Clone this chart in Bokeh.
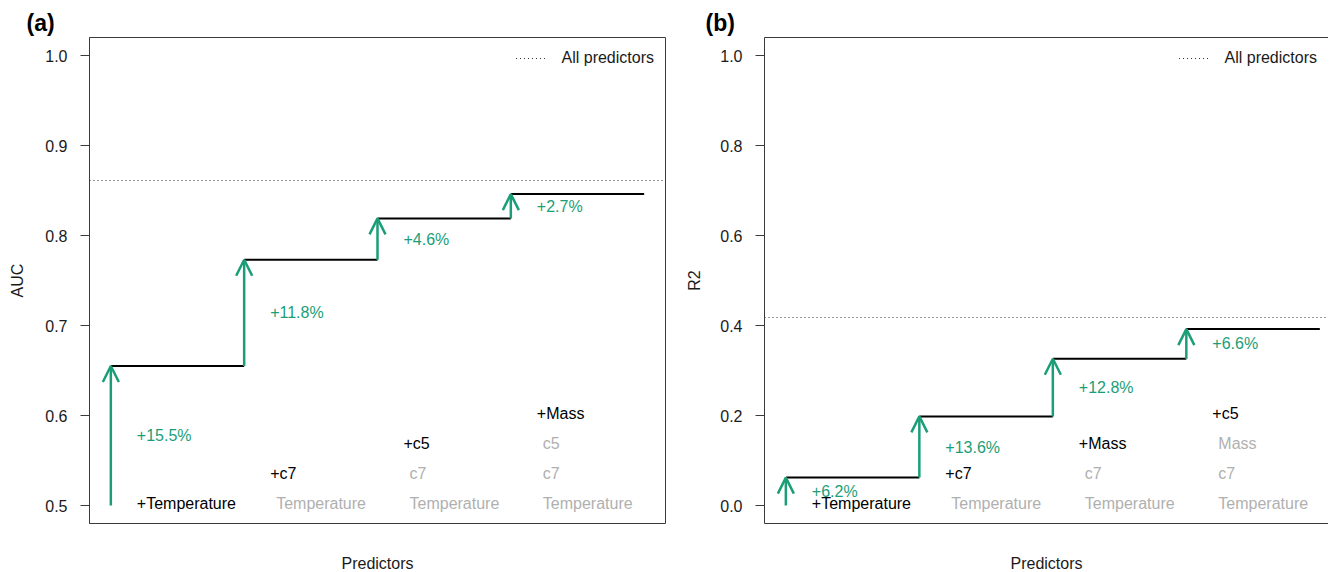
from bokeh.plotting import figure
from bokeh.models import (Range1d, FixedTicker, NumeralTickFormatter, Arrow, OpenHead,
                          ColumnDataSource, Title, LinearAxis)
from bokeh.layouts import row
from bokeh.embed import file_html
from bokeh.resources import INLINE
from bokeh.core.properties import value

# ---------------- data ----------------
steps = [1, 2, 3, 4]

auc_values = [0.655, 0.773, 0.819, 0.846]
auc_base = 0.5
auc_all = 0.861
auc_gain_labels = ["+15.5%", "+11.8%", "+4.6%", "+2.7%"]
auc_predictors = ["Temperature", "c7", "c5", "Mass"]
auc_ticks = [0.5, 0.6, 0.7, 0.8, 0.9, 1.0]

r2_values = [0.062, 0.198, 0.326, 0.392]
r2_base = 0.0
r2_all = 0.417
r2_gain_labels = ["+6.2%", "+13.6%", "+12.8%", "+6.6%"]
r2_predictors = ["Temperature", "c7", "Mass", "c5"]
r2_ticks = [0.0, 0.2, 0.4, 0.6, 0.8, 1.0]

GREEN = "#1B9E77"
GREY = "#B0B0B0"
FONT = "Liberation Sans"
FRAME = "#3a3a3a"


def panel(tag, ylabel, values, base, allv, gains, preds, ticks, yrange, xend,
          frame_width, border_left, border_right, full_outline, title_x, ylab_standoff):
    p = figure(output_backend="svg", toolbar_location=None,
               frame_width=frame_width, frame_height=486,
               min_border_left=border_left, min_border_right=border_right,
               min_border_top=37, min_border_bottom=49,
               x_range=Range1d(0.84, xend), y_range=Range1d(*yrange),
               x_axis_location=None, y_axis_location="left")
    p.xgrid.visible = False
    p.ygrid.visible = False
    p.background_fill_color = "white"
    p.border_fill_color = "white"
    if full_outline:
        p.outline_line_color = FRAME
        p.outline_line_width = 1
    else:
        p.outline_line_color = None

    # y axis
    ax = p.yaxis[0]
    ax.ticker = FixedTicker(ticks=ticks)
    ax.formatter = NumeralTickFormatter(format="0.0")
    ax.minor_tick_line_color = None
    ax.major_tick_in = 0
    ax.major_tick_out = 9
    ax.major_tick_line_color = FRAME
    ax.axis_line_color = FRAME
    ax.major_label_standoff = 13
    ax.major_label_text_font = FONT
    ax.major_label_text_font_size = "16px"
    ax.major_label_text_color = "#1a1a1a"
    ax.axis_label = ylabel
    ax.axis_label_text_font = FONT
    ax.axis_label_text_font_size = "16px"
    ax.axis_label_text_font_style = "normal"
    ax.axis_label_text_color = "#1a1a1a"
    ax.axis_label_standoff = ylab_standoff

    # bottom axis (title only)
    bx = LinearAxis(ticker=FixedTicker(ticks=[]), major_tick_out=0, major_tick_in=0,
                    minor_tick_out=0, minor_tick_in=0,
                    axis_line_color=None if full_outline else FRAME,
                    major_label_text_font_size="0px",
                    axis_label="Predictors", axis_label_text_font=FONT,
                    axis_label_text_font_size="16px", axis_label_text_font_style="normal",
                    axis_label_text_color="#1a1a1a", axis_label_standoff=31)
    p.add_layout(bx, "below")
    if not full_outline:
        tx = LinearAxis(ticker=FixedTicker(ticks=[]), major_tick_out=0, major_tick_in=0,
                        minor_tick_out=0, minor_tick_in=0, axis_line_color=FRAME,
                        major_label_text_font_size="0px")
        p.add_layout(tx, "above")

    # title
    t = Title(text=tag, text_font=FONT, text_font_size="23px", text_font_style="bold",
              align="left", offset=title_x - border_left, standoff=4,
              text_color="black")
    p.add_layout(t, "above")

    # all predictors line
    p.hspan(y=[allv], line_color="#333333", line_width=1, line_dash="1 3",
            legend_label="All predictors")

    # step lines
    nxt = [s + 1 for s in steps]
    p.segment(x0=steps, y0=values, x1=nxt, y1=values, line_color="black", line_width=2)

    # arrows
    starts = [base] + values[:-1]
    src = ColumnDataSource(dict(xs=steps, ys=starts, xe=steps, ye=values))
    p.add_layout(Arrow(end=OpenHead(size=16, line_color=GREEN, line_width=2.5),
                       line_color=GREEN, line_width=2.5, source=src,
                       x_start="xs", y_start="ys", x_end="xe", y_end="ye"))

    # gain labels
    mids = [(a + b) / 2 for a, b in zip(starts, values)]
    p.text(x=steps, y=mids, text=gains, x_offset=26, text_align="left",
           text_baseline="middle", text_color=GREEN, text_font=value(FONT),
           text_font_size="16px")

    # predictor labels
    lx, ly, lt, lc, lxo, lyo = [], [], [], [], [], []
    for i, s in enumerate(steps):
        for k in range(i + 1):
            lx.append(s)
            ly.append(base)
            if k == i:
                lt.append("+" + preds[k]); lc.append("black"); lxo.append(26)
            else:
                lt.append(preds[k]); lc.append(GREY); lxo.append(32)
            lyo.append(-2 - 30 * k)
    lsrc = ColumnDataSource(dict(x=lx, y=ly, t=lt, c=lc, xo=lxo, yo=lyo))
    p.text(x="x", y="y", text="t", text_color="c", x_offset="xo", y_offset="yo",
           source=lsrc, text_align="left", text_baseline="middle",
           text_font=value(FONT), text_font_size="16px")

    # legend
    lg = p.legend[0]
    lg.location = "top_right"
    lg.border_line_color = None
    lg.background_fill_alpha = 0
    lg.label_text_font = FONT
    lg.label_text_font_size = "16px"
    lg.label_text_color = "#1a1a1a"
    lg.glyph_width = 32
    lg.label_standoff = 14
    lg.margin = 11
    lg.padding = 9
    lg.label_height = 20
    lg.glyph_height = 20
    return p


pa = panel("(a)", "AUC", auc_values, auc_base, auc_all, auc_gain_labels, auc_predictors,
           auc_ticks, (0.48, 1.02), 5.16, 576, 89, 11, True, 26, 16)
pb = panel("(b)", "R2", r2_values, r2_base, r2_all, r2_gain_labels, r2_predictors,
           r2_ticks, (-0.04, 1.04), 5.065, 564, 88, 0, False, 29, 14)

layout = row(pa, pb)
open("out.html", "w").write(file_html(layout, INLINE))
